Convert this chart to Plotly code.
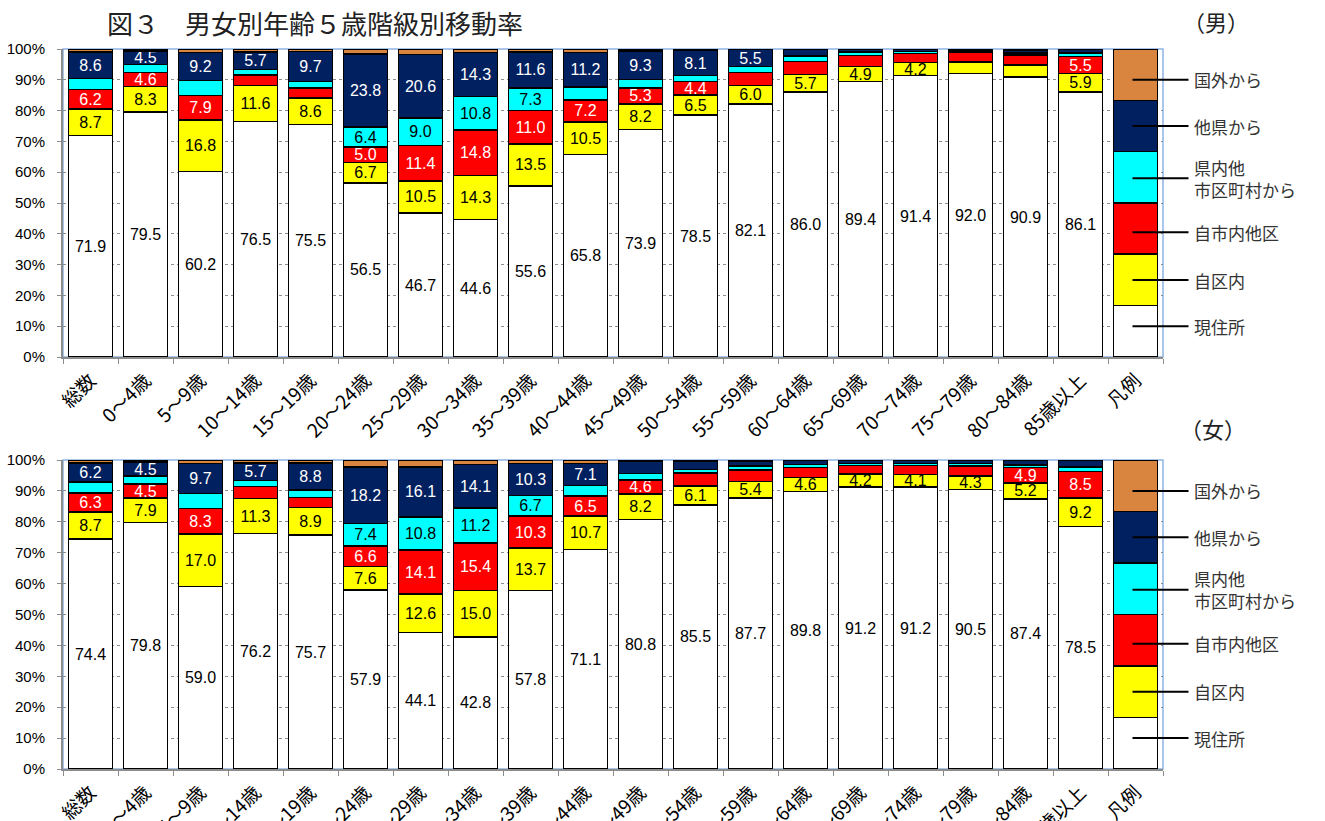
import plotly.graph_objects as go

# ---- categories ----
categories = ["総数", "0～4歳", "5～9歳", "10～14歳", "15～19歳", "20～24歳",
              "25～29歳", "30～34歳", "35～39歳", "40～44歳", "45～49歳",
              "50～54歳", "55～59歳", "60～64歳", "65～69歳", "70～74歳",
              "75～79歳", "80～84歳", "85歳以上", "凡例"]

series_names = ["現住所", "自区内", "自市内他区", "県内他<br>市区町村から", "他県から", "国外から"]

# ---- 男 (%) ----
male_current   = [71.9, 79.5, 60.2, 76.5, 75.5, 56.5, 46.7, 44.6, 55.6, 65.8, 73.9, 78.5, 82.1, 86.0, 89.4, 91.4, 92.0, 90.9, 86.1]
male_same_ward = [8.7, 8.3, 16.8, 11.6, 8.6, 6.7, 10.5, 14.3, 13.5, 10.5, 8.2, 6.5, 6.0, 5.7, 4.9, 4.2, 3.8, 3.9, 5.9]
male_city      = [6.2, 4.6, 7.9, 3.4, 3.3, 5.0, 11.4, 14.8, 11.0, 7.2, 5.3, 4.4, 4.2, 4.2, 3.6, 2.9, 3.1, 3.2, 5.5]
male_pref      = [3.7, 2.5, 4.8, 1.9, 2.1, 6.4, 9.0, 10.8, 7.3, 4.2, 2.7, 2.0, 2.0, 1.9, 1.1, 0.7, 0.5, 0.7, 1.2]
male_other     = [8.6, 4.5, 9.2, 5.7, 9.7, 23.8, 20.6, 14.3, 11.6, 11.2, 9.3, 8.1, 5.5, 2.0, 0.9, 0.7, 0.5, 1.0, 1.1]
male_abroad    = [0.9, 0.6, 1.1, 0.9, 0.8, 1.6, 1.8, 1.2, 1.0, 1.1, 0.6, 0.5, 0.2, 0.2, 0.1, 0.1, 0.1, 0.3, 0.2]

# ---- 女 (%) ----
female_current   = [74.4, 79.8, 59.0, 76.2, 75.7, 57.9, 44.1, 42.8, 57.8, 71.1, 80.8, 85.5, 87.7, 89.8, 91.2, 91.2, 90.5, 87.4, 78.5]
female_same_ward = [8.7, 7.9, 17.0, 11.3, 8.9, 7.6, 12.6, 15.0, 13.7, 10.7, 8.2, 6.1, 5.4, 4.6, 4.2, 4.1, 4.3, 5.2, 9.2]
female_city      = [6.3, 4.5, 8.3, 4.0, 3.3, 6.6, 14.1, 15.4, 10.3, 6.5, 4.6, 4.2, 3.7, 3.2, 2.8, 2.9, 3.3, 4.9, 8.5]
female_pref      = [3.5, 2.6, 4.9, 1.8, 2.4, 7.4, 10.8, 11.2, 6.7, 3.5, 2.1, 1.2, 1.3, 1.0, 0.6, 0.6, 0.7, 0.9, 1.6]
female_other     = [6.2, 4.5, 9.7, 5.7, 8.8, 18.2, 16.1, 14.1, 10.3, 7.1, 3.8, 2.6, 1.6, 1.2, 1.0, 1.0, 1.0, 1.4, 2.0]
female_abroad    = [0.9, 0.7, 1.1, 1.0, 0.9, 2.3, 2.3, 1.5, 1.2, 1.1, 0.5, 0.4, 0.3, 0.2, 0.2, 0.2, 0.2, 0.2, 0.2]

# key bar (凡例): six equal bands
key_bar = [16.7, 16.7, 16.6, 16.7, 16.6, 16.7]

# ---- styling ----
colors = ["#FFFFFF", "#FFFF00", "#FF0000", "#00FFFF", "#002060", "#D9843F"]
text_colors = ["#000000", "#000000", "#FFFFFF", "#000000", "#FFFFFF", "#000000"]
label_min = [0.0, 4.0, 4.4, 5.0, 4.0, 1000.0]   # smallest band that carries a value label
key_line_levels = [10, 25, 40.5, 58, 75, 90]

W, H = 1325, 821
X_DOM = [63 / W, 1163 / W]
Y_TOP = [1 - 357 / H, 1 - 49 / H]
Y_BOT = [1 - 769 / H, 1 - 460 / H]

NUM_FONT = "Liberation Sans, Arial, sans-serif"
JP_FONT = "Noto Sans CJK JP, sans-serif"

fig = go.Figure()

panels = [
    ("x", "y", [male_current, male_same_ward, male_city, male_pref, male_other, male_abroad]),
    ("x2", "y2", [female_current, female_same_ward, female_city, female_pref, female_other, female_abroad]),
]

for xa, ya, block in panels:
    for k, vals in enumerate(block):
        ys = list(vals) + [key_bar[k]]
        texts = ["" if (c == "凡例" or v < label_min[k]) else f"{v:.1f}"
                 for c, v in zip(categories, ys)]
        fig.add_trace(go.Bar(
            x=categories, y=ys, xaxis=xa, yaxis=ya,
            name=series_names[k].replace("<br>", ""),
            marker=dict(color=colors[k], line=dict(color="#000000", width=1.5)),
            text=texts, textposition="inside", insidetextanchor="middle",
            textangle=0, constraintext="none",
            textfont=dict(family=NUM_FONT, size=16, color=text_colors[k]),
            showlegend=False, hoverinfo="skip",
        ))

axis_common_y = dict(
    range=[0, 100], tickvals=list(range(0, 101, 10)),
    ticktext=[f"{v}%" for v in range(0, 101, 10)],
    showgrid=True, gridcolor="#8C8C8C", griddash="dot", gridwidth=1,
    showline=True, linecolor="#8C8C8C", linewidth=2,
    ticks="outside", ticklen=4, tickcolor="#8C8C8C", ticklabelstandoff=9,
    tickfont=dict(family=NUM_FONT, size=15, color="#000000"),
    zeroline=False, automargin=False, fixedrange=True,
)
axis_common_x = dict(
    type="category", range=[-0.5, len(categories) - 0.5],
    showline=True, linecolor="#8C8C8C", linewidth=2,
    ticks="outside", tickson="boundaries", ticklen=5, tickcolor="#8C8C8C",
    tickangle=-45, ticklabelstandoff=3,
    tickfont=dict(family=JP_FONT, size=19, color="#000000"),
    showgrid=False, automargin=False, fixedrange=True,
)

fig.update_layout(
    width=W, height=H, margin=dict(l=0, r=0, t=0, b=0),
    paper_bgcolor="#FFFFFF", plot_bgcolor="#FFFFFF",
    barmode="stack", bargap=0.2,
    uniformtext=dict(minsize=16, mode="show"),
    xaxis=dict(domain=X_DOM, anchor="y", **axis_common_x),
    yaxis=dict(domain=Y_TOP, anchor="x", **axis_common_y),
    xaxis2=dict(domain=X_DOM, anchor="y2", **axis_common_x),
    yaxis2=dict(domain=Y_BOT, anchor="x2", **axis_common_y),
)

# plot-area frame (light blue)
for xr, yr in [("x domain", "y domain"), ("x2 domain", "y2 domain")]:
    fig.add_shape(type="rect", xref=xr, yref=yr, x0=0, x1=1, y0=0, y1=1,
                  line=dict(color="#8EB4E3", width=1.5), layer="below")

# key labels with leader lines
key_labels = ["現住所", "自区内", "自市内他区", "県内他<br>市区町村から", "他県から", "国外から"]
for xa, ya in [("x", "y"), ("x2", "y2")]:
    for lab, lvl in zip(key_labels, key_line_levels):
        fig.add_annotation(
            x="凡例", y=lvl, xref=xa, yref=ya, xshift=-3,
            text=lab, showarrow=True, arrowhead=0, arrowwidth=2, arrowcolor="#000000",
            ax=56, ay=0, axref="pixel", ayref="pixel",
            xanchor="left", yanchor="middle", align="left", borderpad=4,
            font=dict(family=JP_FONT, size=17, color="#333333"),
        )

# titles
fig.add_annotation(x=105 / W, y=1 - 22 / H, xref="paper", yref="paper",
                   text="図３　男女別年齢５歳階級別移動率", showarrow=False,
                   xanchor="left", yanchor="middle",
                   font=dict(family=JP_FONT, size=26, color="#222222"))
fig.add_annotation(x=1181 / W, y=1 - 21 / H, xref="paper", yref="paper",
                   text="（男）", showarrow=False, xanchor="left", yanchor="middle",
                   font=dict(family=JP_FONT, size=22, color="#222222"))
fig.add_annotation(x=1178 / W, y=1 - 428 / H, xref="paper", yref="paper",
                   text="（女）", showarrow=False, xanchor="left", yanchor="middle",
                   font=dict(family=JP_FONT, size=22, color="#222222"))

fig.write_html("out.html")
